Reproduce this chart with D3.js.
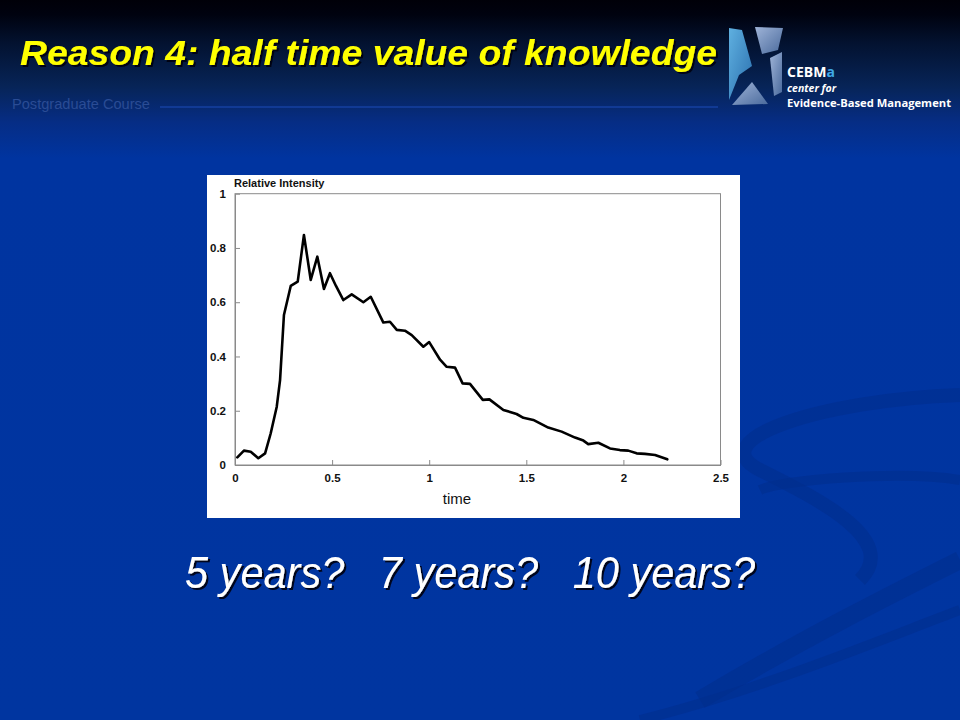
<!DOCTYPE html>
<html><head><meta charset="utf-8">
<script src="https://cdn.jsdelivr.net/npm/d3@7"></script>
<style>html,body{margin:0;padding:0;background:#0033a0;}svg{display:block;}</style>
</head><body>
<script>
// ---- data ----
const timeValues = [0.012,0.046,0.081,0.12,0.155,0.184,0.215,0.232,0.252,0.287,0.323,0.355,0.39,0.424,0.458,0.489,0.52,0.558,0.601,0.661,0.699,0.764,0.798,0.833,0.875,0.91,0.97,1.0,1.056,1.09,1.133,1.172,1.21,1.276,1.31,1.382,1.45,1.485,1.536,1.613,1.682,1.751,1.794,1.819,1.871,1.931,1.982,2.025,2.068,2.111,2.163,2.226];
const intensity = [0.028,0.053,0.049,0.025,0.043,0.117,0.215,0.313,0.553,0.66,0.676,0.848,0.682,0.768,0.649,0.707,0.66,0.608,0.629,0.60,0.62,0.525,0.528,0.498,0.495,0.479,0.436,0.453,0.388,0.362,0.359,0.301,0.299,0.24,0.242,0.203,0.188,0.174,0.166,0.138,0.123,0.101,0.09,0.077,0.082,0.061,0.055,0.053,0.043,0.041,0.037,0.021];
const xTicks = [0,0.5,1,1.5,2,2.5];
const yTicks = [0,0.2,0.4,0.6,0.8,1];
const xTickLabels = ["0","0.5","1","1.5","2","2.5"];
const yTickLabels = ["0","0.2","0.4","0.6","0.8","1"];
const titleText = "Reason 4: half time value of knowledge";
const subText = "Postgraduate Course";
const questionText = "5 years?   7 years?   10 years?";

const W = 960, H = 720;
const svg = d3.select("body").append("svg").attr("width", W).attr("height", H);
const defs = svg.append("defs");

// drop shadow filter
const sh = defs.append("filter").attr("id","shadow").attr("x","-5%").attr("y","-20%").attr("width","110%").attr("height","150%");
sh.append("feDropShadow").attr("dx",2).attr("dy",2).attr("stdDeviation",0.6).attr("flood-color","#000010").attr("flood-opacity",0.9);

// background gradient
const bg = defs.append("linearGradient").attr("id","bg").attr("x1",0).attr("y1",0).attr("x2",0).attr("y2",1);
[[0,"#000008"],[0.02,"#00020f"],[0.06,"#031230"],[0.12,"#072457"],[0.17,"#062d85"],[0.22,"#0034a0"],[1,"#0035a0"]]
  .forEach(s=>bg.append("stop").attr("offset",s[0]).attr("stop-color",s[1]));
svg.append("rect").attr("width",W).attr("height",H).attr("fill","url(#bg)");

// decorative swooshes
const sw = svg.append("g").attr("fill","none").attr("stroke","#002d8c").attr("stroke-opacity",0.55);
sw.append("path").attr("d","M960,395 C820,400 700,440 760,470 C820,500 900,540 860,580").attr("stroke-width",14);
sw.append("path").attr("d","M700,700 C800,640 900,590 960,560").attr("stroke-width",18);
sw.append("path").attr("d","M640,720 C760,690 880,640 960,610").attr("stroke-width",10);
sw.append("path").attr("d","M960,480 C900,470 780,480 760,490").attr("stroke-width",10);

// title with shadow
svg.append("text").attr("x",20).attr("y",65).text(titleText)
  .attr("font-family","Liberation Sans, Arial, sans-serif").attr("font-weight","bold").attr("font-style","italic")
  .attr("font-size",35).attr("fill","#ffff00").attr("textLength",697).attr("lengthAdjust","spacingAndGlyphs")
  .attr("filter","url(#shadow)");

svg.append("text").attr("x",12).attr("y",109).text(subText)
  .attr("font-family","Liberation Sans, Arial, sans-serif").attr("font-size",14).attr("fill","#2a4c95")
  .attr("textLength",138).attr("lengthAdjust","spacingAndGlyphs");
svg.append("line").attr("x1",160).attr("x2",718).attr("y1",107).attr("y2",107).attr("stroke","#1c4cb8").attr("stroke-width",1);

// logo
const logo = svg.append("g");
const lg = defs.append("linearGradient").attr("id","lg").attr("x1",0).attr("y1",0).attr("x2",1).attr("y2",1);
lg.append("stop").attr("offset",0).attr("stop-color","#5fb0e0");
lg.append("stop").attr("offset",1).attr("stop-color","#2a6fae");
const lg2 = defs.append("linearGradient").attr("id","lg2").attr("x1",0).attr("y1",0).attr("x2",1).attr("y2",1);
lg2.append("stop").attr("offset",0).attr("stop-color","#9fb4d8");
lg2.append("stop").attr("offset",1).attr("stop-color","#4a6a9c");
logo.append("polygon").attr("points","729,28 742,30 752,66 739,75 729,100").attr("fill","url(#lg)");
logo.append("polygon").attr("points","755,27 783,28 778,50 762,54").attr("fill","url(#lg2)");
logo.append("polygon").attr("points","770,58 782,52 782,92 774,96").attr("fill","url(#lg2)");
logo.append("polygon").attr("points","732,105 752,82 768,104").attr("fill","url(#lg2)");
const ctext = logo.append("text").attr("x",787).attr("y",77).attr("font-family","Open Sans, DejaVu Sans, sans-serif")
  .attr("font-weight","bold").attr("font-size",14).attr("fill","#ffffff");
ctext.append("tspan").text("CEBM");
ctext.append("tspan").attr("fill","#3fa9e6").text("a");
logo.append("text").attr("x",787).attr("y",92).text("center for").attr("font-family","Open Sans, DejaVu Sans, sans-serif")
  .attr("font-style","italic").attr("font-weight","bold").attr("font-size",10.5).attr("fill","#ffffff");
logo.append("text").attr("x",787).attr("y",107).text("Evidence-Based Management").attr("font-family","Open Sans, DejaVu Sans, sans-serif")
  .attr("font-weight","bold").attr("font-size",10.5).attr("fill","#ffffff").attr("textLength",164).attr("lengthAdjust","spacingAndGlyphs");

// chart panel
svg.append("rect").attr("x",207).attr("y",175).attr("width",533).attr("height",343).attr("fill","#ffffff");

const x = d3.scaleLinear().domain([0,2.5]).range([235,720.5]);
const y = d3.scaleLinear().domain([0,1]).range([465,193.7]);

const axisColor = "#8a8a8a";
svg.append("rect").attr("x",x(0)).attr("y",y(1)).attr("width",x(2.5)-x(0)).attr("height",y(0)-y(1))
  .attr("fill","none").attr("stroke",axisColor).attr("stroke-width",1);

const fontChart = "Liberation Sans, Arial, Helvetica, sans-serif";
const xAxis = svg.append("g").attr("transform",`translate(0,${y(0)})`)
  .call(d3.axisBottom(x).tickValues(xTicks).tickFormat((d,i)=>xTickLabels[i]).tickSizeInner(-5).tickSizeOuter(0).tickPadding(9));
xAxis.select(".domain").attr("stroke",axisColor);
xAxis.selectAll(".tick line").attr("stroke",axisColor);
xAxis.selectAll(".tick text").attr("font-family",fontChart).attr("font-weight","bold").attr("font-size",11.5).attr("fill","#111");

const yAxis = svg.append("g").attr("transform",`translate(${x(0)},0)`)
  .call(d3.axisLeft(y).tickValues(yTicks).tickFormat((d,i)=>yTickLabels[i]).tickSizeInner(-5).tickSizeOuter(0).tickPadding(9));
yAxis.select(".domain").attr("stroke",axisColor);
yAxis.selectAll(".tick line").attr("stroke",axisColor);
yAxis.selectAll(".tick text").attr("font-family",fontChart).attr("font-weight","bold").attr("font-size",11.5).attr("fill","#111");

svg.append("text").attr("x",234).attr("y",187).text("Relative Intensity")
  .attr("font-family",fontChart).attr("font-weight","bold").attr("font-size",11).attr("fill","#111");
svg.append("text").attr("x",457).attr("y",504).attr("text-anchor","middle").text("time")
  .attr("font-family",fontChart).attr("font-size",15).attr("fill","#111");

const pts = timeValues.map((t,i)=>[t,intensity[i]]);
svg.append("path").datum(pts)
  .attr("d", d3.line().x(d=>x(d[0])).y(d=>y(d[1])))
  .attr("fill","none").attr("stroke","#000").attr("stroke-width",2.6).attr("stroke-linejoin","round").attr("stroke-linecap","round");

// question text
const qf = "Liberation Sans Narrow, Arial Narrow, Liberation Sans, Arial, sans-serif";
svg.append("text").attr("x",185).attr("y",588).text(questionText)
  .attr("font-family",qf).attr("font-style","italic").attr("font-size",45).attr("fill","#ffffff")
  .attr("textLength",570).attr("lengthAdjust","spacingAndGlyphs").style("white-space","pre")
  .attr("filter","url(#shadow)");
</script>
</body></html>
